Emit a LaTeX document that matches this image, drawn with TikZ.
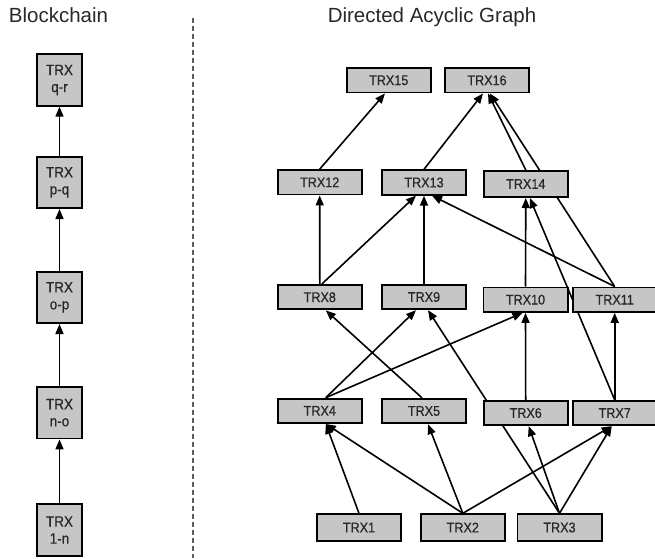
\documentclass[tikz,border=0pt]{standalone}
\usepackage{fontspec}
\setmainfont{Liberation Sans}
\newfontfamily\boxfont[FakeStretch=0.9,FakeBold=0.6]{Liberation Sans}
\usetikzlibrary{arrows.meta,backgrounds}
\definecolor{boxgray}{RGB}{198,198,198}
\definecolor{dashgray}{RGB}{95,95,95}
\definecolor{inkgray}{RGB}{40,40,40}
\begin{document}
\begin{tikzpicture}[x=1pt,y=-1pt,
  trx/.style={draw=black, line width=1.9pt, fill=boxgray,
    minimum width=84.1pt, minimum height=24.4pt, inner sep=0pt,
    text=inkgray, font=\boxfont\fontsize{14}{16}\selectfont},
  chainbox/.style={draw=black, line width=1.9pt, fill=boxgray,
    minimum width=45.1pt, minimum height=51.5pt, inner sep=0pt, align=center,
    text=inkgray, font=\boxfont\fontsize{15}{17}\selectfont},
  link/.style={line width=1.6pt, -{Triangle[length=10pt,width=8pt]}},
  title/.style={font=\fontsize{20.5}{24}\selectfont, text=inkgray, inner sep=0pt, anchor=base}]

\useasboundingbox (0,0) rectangle (655,558);

% headings
\node[title] (hchain) at (58.5,22.7) {Blockchain};
\node[title] (hdag) at (432,22.7) {Directed Acyclic Graph};

% divider
\coordinate (divtop) at (193,18);
\coordinate (divbot) at (193,558);
\draw[dashgray, line width=1.4pt, dash pattern=on 5pt off 3pt] (divtop) -- (divbot);

% linear chain of blocks
\node[chainbox] (b1) at (59.5,530)   {TRX\\1-n};
\node[chainbox] (b2) at (59.5,412.7) {TRX\\n-o};
\node[chainbox] (b3) at (59.5,297.3) {TRX\\o-p};
\node[chainbox] (b4) at (59.5,182.3) {TRX\\p-q};
\node[chainbox] (b5) at (59.5,80)    {TRX\\q-r};

% DAG transactions
\node[trx] (t15) at (388.7,80.3) {TRX15};
\node[trx] (t16) at (487,80.3)   {TRX16};
\node[trx] (t12) at (319.7,182.3) {TRX12};
\node[trx] (t13) at (424,182.5)   {TRX13};
\node[trx, minimum height=26.1pt] (t14) at (525.8,184) {TRX14};
\node[trx] (t8)  at (319.8,297.2) {TRX8};
\node[trx] (t9)  at (424,297)     {TRX9};
\node[trx] (t10) at (525.5,299.7) {TRX10};
\node[trx] (t11) at (614.7,299.7) {TRX11};
\node[trx] (t4)  at (319.8,410.8) {TRX4};
\node[trx] (t5)  at (424,411)     {TRX5};
\node[trx] (t6)  at (525.7,413)   {TRX6};
\node[trx] (t7)  at (614.7,413)   {TRX7};
\node[trx, minimum height=26.5pt] (t1) at (359,527.5)   {TRX1};
\node[trx, minimum height=26.5pt] (t2) at (462.8,527.5) {TRX2};
\node[trx, minimum height=26.5pt] (t3) at (559.5,527.5) {TRX3};

\begin{scope}[on background layer]
  % chain links
  \draw[link] (b1.north) -- (b2.south);
  \draw[link] (b2.north) -- (b3.south);
  \draw[link] (b3.north) -- (b4.south);
  \draw[link] (b4.north) -- (b5.south);

  % DAG approvals
  \draw[link] (t12.north) -- ([xshift=-3.7pt]t15.south);
  \draw[link] (t13.north) -- ([xshift=-4pt]t16.south);
  \draw[link] (t14.north) -- ([xshift=1pt]t16.south);
  \draw[link] (t11.north) -- ([xshift=3pt]t16.south);

  \draw[link] (t8.north) -- (t12.south);
  \draw[link] ([xshift=2pt]t8.north) -- ([xshift=-8pt]t13.south);
  \draw[link] (t9.north) -- (t13.south);
  \draw[link] (t11.north) -- ([xshift=8pt]t13.south);
  \draw[link] (t10.north) -- (t14.south);
  \draw[link] (t7.north) -- ([xshift=4pt]t14.south);

  \draw[link] ([xshift=-2pt]t5.north) -- ([xshift=6pt]t8.south);
  \draw[link] ([xshift=6pt]t4.north) -- ([xshift=-8pt]t9.south);
  \draw[link] (t3.north) -- ([xshift=4pt]t9.south);
  \draw[link] ([xshift=6pt]t4.north) -- ([xshift=-3pt]t10.south);
  \draw[link] (t6.north) -- (t10.south);
  \draw[link] (t7.north) -- (t11.south);

  \draw[link] (t1.north) -- ([xshift=6pt]t4.south);
  \draw[link] (t2.north) -- ([xshift=6pt]t4.south);
  \draw[link] (t2.north) -- ([xshift=4pt]t5.south);
  \draw[link] (t3.north) -- ([xshift=3pt]t6.south);
  \draw[link] (t2.north) -- ([xshift=-3pt]t7.south);
  \draw[link] (t3.north) -- ([xshift=-3pt]t7.south);
\end{scope}
\end{tikzpicture}
\end{document}
